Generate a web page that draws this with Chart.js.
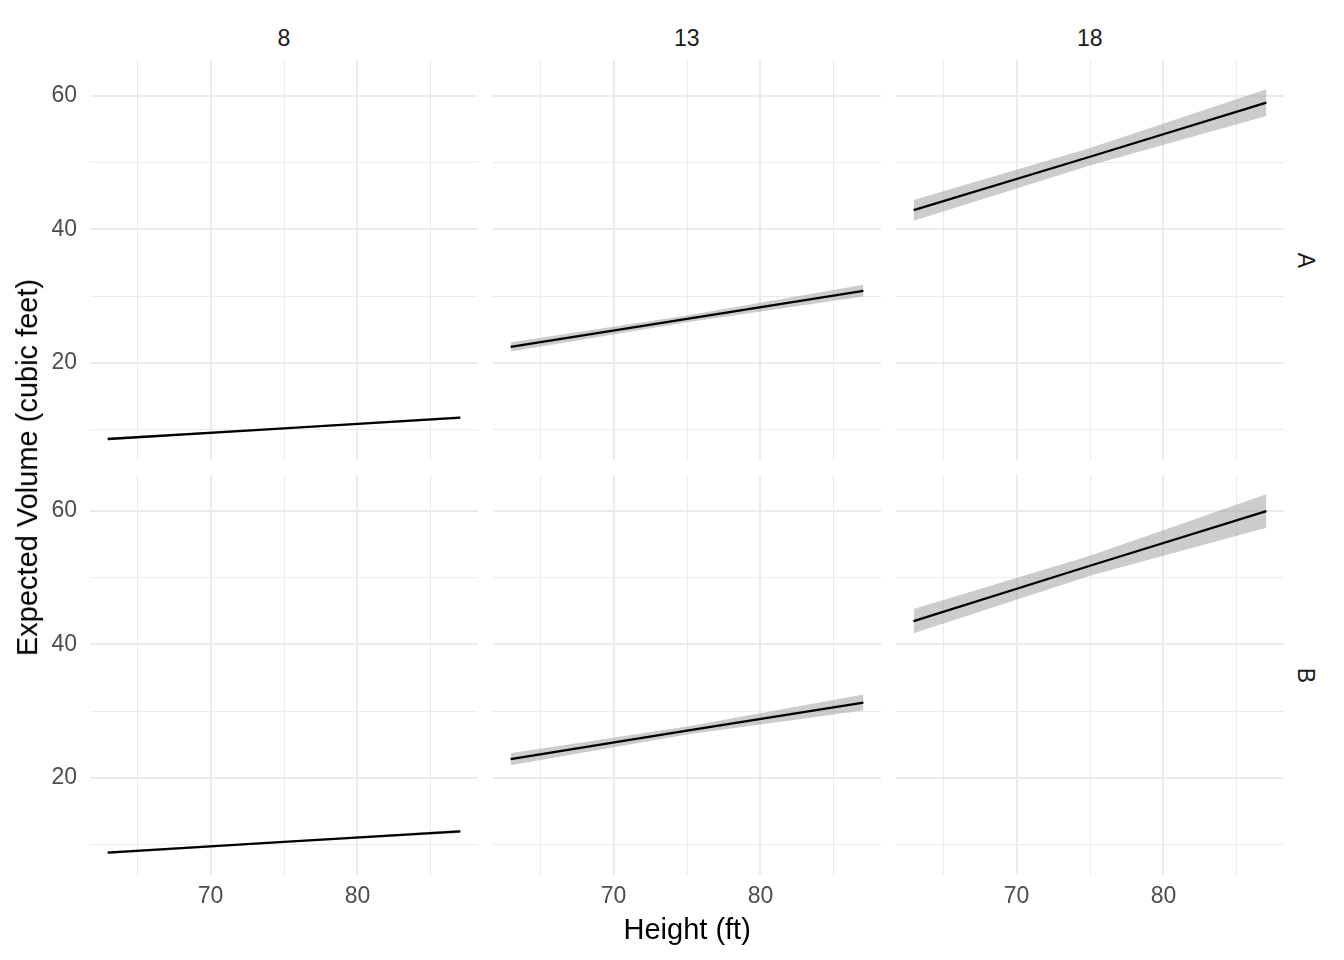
<!DOCTYPE html>
<html>
<head>
<meta charset="utf-8">
<script src="https://cdn.jsdelivr.net/npm/chart.js@4.4.1/dist/chart.umd.min.js"></script>
<style>
  body { margin: 0; background: #fff; }
  #wrap { position: relative; width: 1344px; height: 960px; font-family: "Liberation Sans", Arial, sans-serif; }
  #wrap canvas { position: absolute; }
  .lbl { position: absolute; white-space: nowrap; transform-origin: center center; line-height: 1; }
  .strip { font-size: 23px; color: #1a1a1a; }
  .title { font-size: 29px; color: #000; }
</style>
</head>
<body>
<div id="wrap"></div>
<script>
// facet values
const girths = [8, 13, 18];
const groups = ["A", "B"];
const heights = [63, 75, 87];

// fitted volume per group (rows) and girth (columns), at each height
const fitA = [[8.6, 10.2, 11.8], [22.4, 26.6, 30.8], [42.9, 50.9, 59.0]];
const fitB = [[8.8, 10.4, 12.0], [22.8, 27.1, 31.3], [43.5, 51.8, 60.0]];
const lowerA = [[8.4, 10.08, 11.6], [21.7, 26.1, 29.95], [41.3, 49.6, 57.0]];
const upperA = [[8.8, 10.32, 12.0], [23.1, 27.1, 31.7], [44.4, 52.2, 61.0]];
const lowerB = [[8.58, 10.28, 11.75], [21.9, 26.5, 30.1], [41.7, 50.3, 57.5]];
const upperB = [[9.02, 10.52, 12.25], [23.7, 27.7, 32.5], [45.3, 53.3, 62.5]];

// gridlines and the ones that get a label
const xGrid = [65, 70, 75, 80, 85];
const yGrid = [10, 20, 30, 40, 50, 60];
const xTickLabels = [70, 80];
const yTickLabels = [20, 40, 60];

const fits = [fitA, fitB];
const lowers = [lowerA, lowerB];
const uppers = [upperA, upperB];

const wrap = document.getElementById("wrap");
const panelLeft = [90, 493, 896];
const panelTop = [60, 475];
const PW = 388, PH = 400, AXW = 70, AXH = 50;
const grid = "#ebebeb";
const tickFont = { family: "Liberation Sans", size: 23, lineHeight: 1.2 };

function pts(arr) {
  return heights.map((h, i) => ({ x: h, y: arr[i] }));
}

// keep every panel's plot area the same size, whatever labels it shows
function fixBox(s, w, h) {
  if (w) s.width = w;
  if (h) s.height = h;
  s.paddingTop = 0;
  s.paddingBottom = 0;
  s.paddingLeft = 0;
  s.paddingRight = 0;
}

function addText(txt, cls, cx, cy, rot) {
  const d = document.createElement("div");
  d.className = "lbl " + cls;
  d.textContent = txt;
  wrap.appendChild(d);
  d.style.left = (cx - d.offsetWidth / 2) + "px";
  d.style.top = (cy - d.offsetHeight / 2) + "px";
  if (rot) d.style.transform = "rotate(" + rot + "deg)";
}

groups.forEach((g, r) => {
  girths.forEach((gi, c) => {
    const canvas = document.createElement("canvas");
    canvas.width = PW + AXW;
    canvas.height = PH + AXH;
    canvas.style.left = (panelLeft[c] - AXW) + "px";
    canvas.style.top = panelTop[r] + "px";
    wrap.appendChild(canvas);

    new Chart(canvas, {
      type: "line",
      data: {
        datasets: [
          { data: pts(fits[r][c]), borderColor: "#000", borderWidth: 2.3, pointRadius: 0, fill: false },
          { data: pts(lowers[r][c]), borderWidth: 0, pointRadius: 0, fill: false },
          { data: pts(uppers[r][c]), borderWidth: 0, pointRadius: 0, fill: "-1",
            backgroundColor: "rgba(153,153,153,0.5)" }
        ]
      },
      options: {
        responsive: false,
        animation: false,
        layout: { padding: 0 },
        plugins: { legend: { display: false }, tooltip: { enabled: false } },
        scales: {
          x: {
            type: "linear", min: 61.8, max: 88.2,
            afterBuildTicks: s => { s.ticks = xGrid.map(v => ({ value: v })); },
            afterFit: s => fixBox(s, 0, AXH),
            border: { display: false },
            grid: { color: grid, drawTicks: false,
                    lineWidth: ctx => (ctx.tick && ctx.tick.value % 10 === 0 ? 2 : 1) },
            ticks: { display: r === 1, padding: 8, color: "#4d4d4d", font: tickFont,
                     maxRotation: 0, autoSkip: false,
                     callback: v => (xTickLabels.includes(v) ? String(v) : "") }
          },
          y: {
            min: 5.45, max: 65.4,
            afterBuildTicks: s => { s.ticks = yGrid.map(v => ({ value: v })); },
            afterFit: s => fixBox(s, AXW, 0),
            border: { display: false },
            grid: { color: grid, drawTicks: false,
                    lineWidth: ctx => (ctx.tick && ctx.tick.value % 20 === 0 ? 2 : 1) },
            ticks: { display: c === 0, padding: 13, color: "#4d4d4d", font: tickFont,
                     autoSkip: false,
                     callback: v => (yTickLabels.includes(v) ? String(v) : "") }
          }
        }
      }
    });
  });
});

girths.forEach((gi, c) => addText(String(gi), "strip", panelLeft[c] + PW / 2, 38));
groups.forEach((g, r) => addText(g, "strip", 1305, panelTop[r] + PH / 2, 90));
addText("Height (ft)", "title", 687, 929);
addText("Expected Volume (cubic feet)", "title", 27, 467, -90);
</script>
</body>
</html>
